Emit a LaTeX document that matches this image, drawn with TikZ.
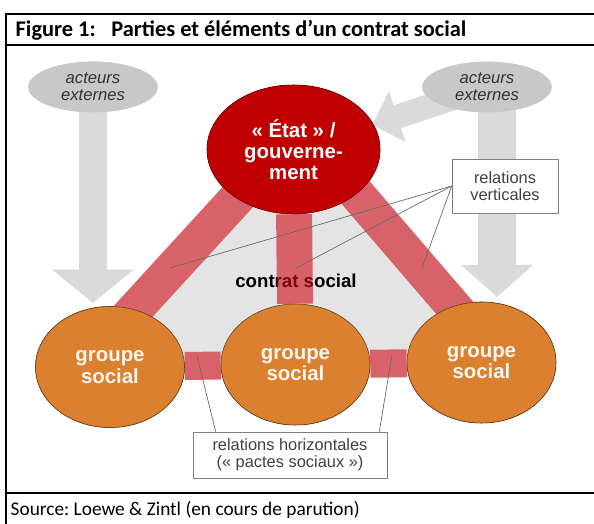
\documentclass[tikz,border=0pt]{standalone}
\usepackage{fontspec}
\setmainfont{Carlito}
\newfontfamily\arialfont{Liberation Sans}
\usetikzlibrary{arrows.meta,shapes.geometric,calc}
\frenchspacing
\definecolor{etatrouge}{RGB}{192,0,0}
\definecolor{etatbord}{RGB}{110,0,0}
\definecolor{groupeorange}{RGB}{218,128,46}
\definecolor{groupebord}{RGB}{90,55,25}
\definecolor{acteurgris}{RGB}{200,200,200}
\definecolor{flechegris}{RGB}{218,218,218}
\definecolor{fondgris}{RGB}{228,228,229}
\definecolor{barrerouge}{RGB}{216,98,106}
\definecolor{barrevoile}{RGB}{208,11,23}
\begin{document}
\begin{tikzpicture}[x=0.75pt,y=-0.75pt,
    acteur/.style={ellipse,fill=acteurgris,minimum width=97pt,minimum height=38pt,inner sep=0pt,
        align=center,text=black!80,font=\arialfont\itshape\fontsize{12.5}{13}\selectfont},
    etat/.style={ellipse,draw=etatbord,fill=etatrouge,minimum width=129.75pt,minimum height=96.75pt,
        inner sep=0pt,align=center,text=white,font=\arialfont\bfseries\fontsize{15.3}{16}\selectfont},
    groupe/.style={ellipse,draw=groupebord,fill=groupeorange,minimum width=111.75pt,minimum height=90.75pt,
        inner sep=0pt,align=center,text=white!94!orange,font=\arialfont\bfseries\fontsize{15.3}{16}\selectfont},
    etiquette/.style={draw=black!50,fill=white,align=center,inner sep=0pt,text=black!75,
        font=\arialfont\fontsize{12.3}{13}\selectfont},
    fleche/.style n args={3}{draw=flechegris,line width=#1,-{Triangle[width=#2,length=#3]}},
    barre/.style={draw=barrerouge,line width=#1},
    renvoi/.style={draw=black!60,line width=0.5pt}]
\useasboundingbox (0,0) rectangle (594,524);
% cadre
\draw[line width=1.5pt] (6,14) -- (594,14) (6,45) -- (594,45) (6,493) -- (594,493) (6,13) -- (6,524);
\node[anchor=west,font=\bfseries\fontsize{16.8}{18}\selectfont] (titre) at (11,30)
    {Figure 1:\hspace{0.7em}Parties et éléments d’un contrat social};
\node[anchor=west,font=\fontsize{14.5}{16}\selectfont] (source) at (6,510)
    {Source: Loewe \& Zintl (en cours de parution)};

\node[acteur] (actg) at (93,87) {};
\node[acteur] (actd) at (487,87) {};
\coordinate (tipg) at (93,303);
\coordinate (tipd) at (497,297);
\coordinate (tipe) at (372,125);
\draw[fleche={21pt}{60pt}{25pt}] (actg.center) -- (tipg);
\draw[fleche={28.5pt}{52.5pt}{24pt}] (tipd |- actd.center) -- (tipd);
\draw[fleche={18pt}{39pt}{20pt}] (actd.center) -- (tipe);
\node[acteur] at (actg) {acteurs\\externes};
\node[acteur] at (actd) {acteurs\\externes};

\node[etat] (etat) at (293.5,149.5) {« État » /\\gouverne-\\ment};
\node[groupe] (g1) at (110,367) {groupe\\social};
\node[groupe] (g2) at (295.5,364.5) {groupe\\social};
\node[groupe] (g3) at (481.5,362.5) {groupe\\social};

% contrat social
\fill[fondgris] (300.6,128.6) -- (86,363) -- (502,363) -- cycle;
\node[font=\arialfont\bfseries\fontsize{14}{16}\selectfont] (contrat) at (296,281) {contrat social};
\draw[barre=27pt] ($(etat)+(-35.5,25.5)$) -- ($(g1)+(-3,-27)$);
\draw[barre=27pt] ($(etat)+(47,25.5)$) -- ($(g3)+(-3.5,-27.5)$);
\draw[barre=27pt,draw=barrevoile,opacity=0.6] (etat) -- (g2);
\draw[barre=21pt] (g1) -- (g2);
\draw[barre=21pt] (g2) -- (g3);

\node[etat] at (etat) {« État » /\\gouverne-\\ment};
\foreach \g in {g1,g2,g3}
    \node[groupe] at (\g) {groupe\\social};

\node[etiquette,minimum width=79.5pt,minimum height=40.5pt] (vert) at (505,186) {relations\\verticales};
\node[etiquette,minimum width=145.5pt,minimum height=34.5pt] (horiz) at (290,455)
    {relations horizontales\\(« pactes sociaux »)};
\coordinate (c1) at (170,268);
\coordinate (c2) at (296,268);
\coordinate (c3) at (422,268);
\coordinate (h1) at (197,356);
\coordinate (h2) at (392,355);
\foreach \c in {c1,c2,c3}
    \draw[renvoi] (vert.west) -- (\c);
\draw[renvoi] ($(horiz.north west)+(23,0)$) -- (h1);
\draw[renvoi] ($(horiz.north east)+(-8,0)$) -- (h2);
\end{tikzpicture}
\end{document}
